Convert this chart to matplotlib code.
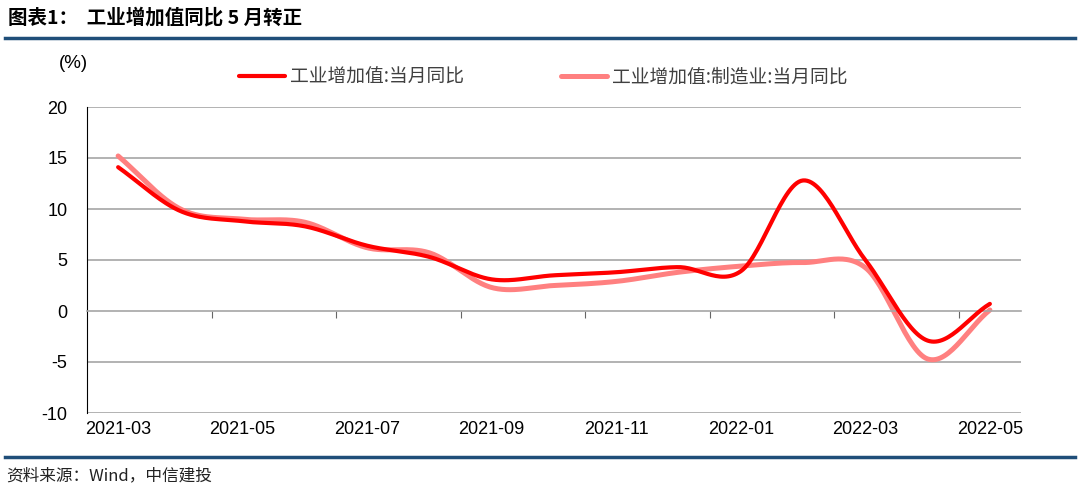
from matplotlib import pyplot as plt
from matplotlib.lines import Line2D
import numpy as np

months = ['2021-03', '2021-04', '2021-05', '2021-06', '2021-07', '2021-08', '2021-09', '2021-10',
          '2021-11', '2021-12', '2022-01', '2022-02', '2022-03', '2022-04', '2022-05']
industry = [14.1, 9.8, 8.8, 8.3, 6.4, 5.3, 3.1, 3.5, 3.8, 4.3, 3.9, 12.8, 5.0, -2.9, 0.7]
manufacturing = [15.2, 10.0, 9.0, 8.7, 6.2, 5.7, 2.3, 2.5, 2.9, 3.8, 4.4, 4.75, 4.25, -4.7, 0.1]
series_names = ['工业增加值:当月同比', '工业增加值:制造业:当月同比']

plt.rcParams['font.family'] = ['Liberation Sans', 'Noto Sans CJK SC', 'DejaVu Sans']
plt.rcParams['axes.unicode_minus'] = False


def smooth(y, n=30):
    # Catmull-Rom style smoothing, like Excel's smoothed line
    y = np.asarray(y, dtype=float)
    x = np.arange(len(y), dtype=float)
    m = np.zeros_like(y)
    m[1:-1] = (y[2:] - y[:-2]) / 2
    m[0] = y[1] - y[0]
    m[-1] = y[-1] - y[-2]
    xs, ys = [], []
    t = np.linspace(0, 1, n, endpoint=False)
    h00 = 2 * t**3 - 3 * t**2 + 1
    h10 = t**3 - 2 * t**2 + t
    h01 = -2 * t**3 + 3 * t**2
    h11 = t**3 - t**2
    for i in range(len(y) - 1):
        xs.append(x[i] + t)
        ys.append(h00 * y[i] + h10 * m[i] + h01 * y[i + 1] + h11 * m[i + 1])
    xs.append([x[-1]])
    ys.append([y[-1]])
    return np.concatenate(xs), np.concatenate(ys)


fig = plt.figure(figsize=(10.8, 4.92), dpi=100)
ax = fig.add_axes([87 / 1080, 1 - 413 / 492, (1021 - 87) / 1080, (413 - 107) / 492])

for v in [-10, -5, 5, 10, 15, 20]:
    ax.axhline(v, color='#a6a6a6', lw=1.2, zorder=0)

xs, ys = smooth(manufacturing)
ax.plot(xs, ys, color='#ff8080', lw=3.6, solid_capstyle='round', label=series_names[1], zorder=2)
xs, ys = smooth(industry)
ax.plot(xs, ys, color='#ff0000', lw=3.0, solid_capstyle='round', label=series_names[0], zorder=3)

ax.set_xlim(-0.5, len(months) - 0.5)
ax.set_ylim(-10, 20)
ax.set_yticks(range(-10, 21, 5))
ax.tick_params(axis='y', length=0, labelsize=13, pad=14)

ax.spines['top'].set_visible(False)
ax.spines['right'].set_visible(False)
ax.spines['left'].set_color('black')
ax.spines['bottom'].set_position(('data', 0))
ax.spines['bottom'].set_color('#a6a6a6')
ax.spines['bottom'].set_linewidth(1.2)
ax.set_xticks(np.arange(1.5, len(months) - 1, 2))
ax.set_xticklabels([])
ax.tick_params(axis='x', length=5, color='#666666', direction='out')

sec = ax.secondary_xaxis('bottom')
sec.set_xticks(range(0, len(months), 2))
sec.set_xticklabels(months[::2])
sec.tick_params(length=0, labelsize=13, pad=6)
sec.spines['bottom'].set_visible(False)

handles, labels = ax.get_legend_handles_labels()
fig.legend(handles[::-1], labels[::-1], loc='center left', bbox_to_anchor=(239 / 1080, 1 - 77 / 492),
           ncol=2, frameon=False, handlelength=2.45, handletextpad=0.25,
           columnspacing=5.2, borderpad=0, borderaxespad=0, labelcolor='#404040',
           prop={'family': ['Noto Sans CJK SC'], 'size': 13.5})

fig.text(73 / 1080, 1 - 63 / 492, '(%)', ha='center', va='center', fontsize=13.5)

fig.text(8 / 1080, 1 - 18 / 492, '图表1：  工业增加值同比 5 月转正', ha='left', va='center',
         fontsize=14, fontweight='bold', family=['Noto Sans CJK SC'])
fig.add_artist(Line2D([5 / 1080, 1075 / 1080], [1 - 38 / 492] * 2, transform=fig.transFigure,
                      color='#1f4e79', lw=2.5))
fig.add_artist(Line2D([5 / 1080, 1075 / 1080], [1 - 457 / 492] * 2, transform=fig.transFigure,
                      color='#1f4e79', lw=2.5))
fig.text(6 / 1080, 1 - 476 / 492, '资料来源：Wind，中信建投', ha='left', va='center',
         fontsize=12, family=['Noto Sans CJK SC'], color='#222222')

plt.savefig('out.png', dpi=100)
